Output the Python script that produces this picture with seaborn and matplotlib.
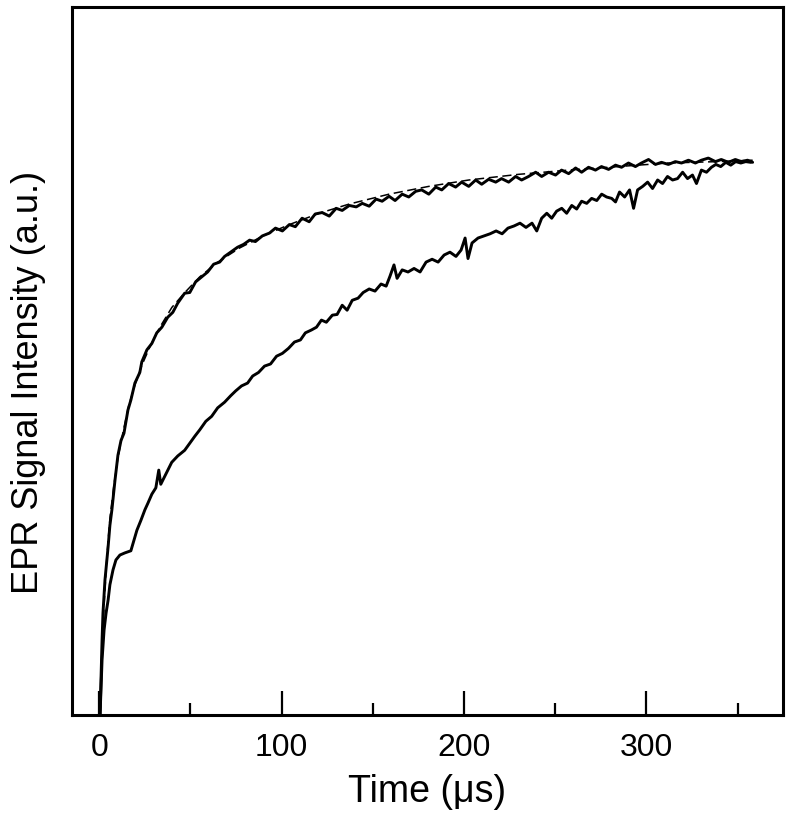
"""
EPR signal rise curves: two measured traces plus a fitted (dashed) curve.
"""

import numpy as np
import pandas as pd
import matplotlib
matplotlib.use("Agg")
import matplotlib.pyplot as plt
import seaborn as sns

# --- data ---
fast_time = [0.4, 0.9, 1.5, 2.0, 3.1, 4.8, 5.8, 6.9, 8.6, 10.2, 11.9, 13.5, 15.7, 17.3, 19.5,
             22.2, 23.3, 26.1, 28.8, 31.5, 34.3, 37.5, 40.3, 43.0, 46.8, 49.6, 52.8, 56.1, 59.4,
             62.7, 66.0, 68.7, 72.0, 75.8, 79.1, 82.4, 85.6, 89.4, 93.3, 96.6, 100.4, 104.2,
             107.5, 111.2, 115.1, 118.4, 122.2, 126.1, 129.9, 133.2, 137.1, 140.9, 144.2, 148.0,
             151.8, 155.1, 158.9, 162.2, 166.1, 169.7, 173.5, 176.8, 180.7, 184.5, 187.8, 191.6,
             195.4, 198.7, 202.6, 206.4, 209.7, 213.5, 217.4, 220.6, 224.5, 228.3, 231.6, 235.4,
             239.3, 242.6, 246.4, 250.2, 253.5, 257.4, 261.2, 264.5, 268.3, 272.1, 275.4, 279.3,
             283.1, 286.4, 290.2, 294.0, 297.3, 301.2, 305.0, 308.3, 312.1, 315.9, 319.3, 323.1,
             326.9, 330.2, 334.0, 337.9, 341.1, 345.0, 348.8, 352.1, 355.5, 358.3]
fast_signal = [0.000, 0.049, 0.106, 0.144, 0.191, 0.237, 0.268, 0.290, 0.332, 0.367, 0.388,
               0.398, 0.431, 0.445, 0.469, 0.484, 0.499, 0.516, 0.525, 0.540, 0.548, 0.562,
               0.569, 0.582, 0.596, 0.597, 0.612, 0.619, 0.626, 0.637, 0.640, 0.648, 0.654,
               0.661, 0.665, 0.671, 0.669, 0.677, 0.681, 0.688, 0.684, 0.693, 0.690, 0.702,
               0.697, 0.708, 0.710, 0.705, 0.716, 0.713, 0.720, 0.718, 0.723, 0.719, 0.729,
               0.726, 0.733, 0.727, 0.736, 0.732, 0.740, 0.742, 0.736, 0.746, 0.742, 0.751,
               0.746, 0.753, 0.747, 0.756, 0.750, 0.757, 0.753, 0.758, 0.753, 0.761, 0.756,
               0.761, 0.767, 0.761, 0.767, 0.763, 0.770, 0.765, 0.773, 0.767, 0.774, 0.770,
               0.775, 0.771, 0.777, 0.774, 0.780, 0.775, 0.780, 0.785, 0.778, 0.781, 0.778,
               0.782, 0.780, 0.784, 0.780, 0.784, 0.787, 0.782, 0.785, 0.781, 0.785, 0.782,
               0.784, 0.781]

slow_time = [0.4, 1.5, 2.6, 3.7, 4.8, 5.8, 7.5, 9.1, 11.3, 14.0, 17.3, 19.0, 20.6, 22.8, 25.0,
             26.6, 28.8, 31.0, 32.6, 33.7, 36.4, 39.7, 43.0, 46.8, 49.6, 52.4, 55.1, 58.4, 61.6,
             64.9, 68.7, 72.0, 74.8, 78.0, 81.3, 84.1, 87.3, 90.6, 93.9, 97.2, 100.4, 103.7,
             107.0, 110.3, 113.0, 116.3, 119.1, 121.8, 124.5, 127.8, 130.4, 133.2, 135.9, 138.7,
             141.9, 144.7, 148.0, 151.2, 154.5, 157.3, 159.4, 161.6, 163.3, 166.1, 169.3, 172.6,
             175.9, 179.2, 182.5, 185.8, 189.1, 192.3, 195.6, 198.4, 200.6, 202.2, 204.4, 207.7,
             211.0, 214.3, 217.6, 220.9, 224.1, 227.4, 230.7, 234.0, 237.3, 239.9, 242.6, 245.4,
             248.1, 250.8, 253.6, 256.3, 259.1, 261.8, 264.5, 267.3, 270.0, 272.8, 275.5, 278.2,
             281.0, 283.1, 285.3, 288.1, 290.8, 293.0, 295.2, 298.0, 300.7, 303.4, 306.2, 308.9,
             311.6, 314.4, 317.1, 319.9, 322.6, 325.3, 327.5, 330.2, 333.0, 335.7, 338.1, 340.8,
             343.6, 346.3, 349.0, 351.8, 354.5, 357.3]
slow_signal = [0.000, 0.078, 0.120, 0.144, 0.162, 0.184, 0.205, 0.219, 0.226, 0.229, 0.232,
               0.247, 0.261, 0.275, 0.290, 0.299, 0.312, 0.321, 0.346, 0.326, 0.340, 0.357,
               0.366, 0.374, 0.384, 0.394, 0.403, 0.415, 0.422, 0.434, 0.442, 0.451, 0.458,
               0.465, 0.469, 0.479, 0.484, 0.493, 0.496, 0.507, 0.511, 0.518, 0.527, 0.530,
               0.540, 0.544, 0.548, 0.558, 0.555, 0.565, 0.566, 0.579, 0.572, 0.586, 0.589,
               0.597, 0.602, 0.599, 0.609, 0.606, 0.620, 0.636, 0.617, 0.629, 0.626, 0.631,
               0.626, 0.640, 0.644, 0.640, 0.650, 0.654, 0.648, 0.657, 0.674, 0.645, 0.667,
               0.674, 0.677, 0.680, 0.684, 0.680, 0.688, 0.691, 0.695, 0.689, 0.695, 0.684,
               0.702, 0.709, 0.702, 0.712, 0.716, 0.709, 0.720, 0.715, 0.726, 0.723, 0.730,
               0.727, 0.736, 0.732, 0.730, 0.725, 0.739, 0.732, 0.742, 0.716, 0.742, 0.747,
               0.753, 0.744, 0.756, 0.751, 0.761, 0.756, 0.758, 0.767, 0.758, 0.763, 0.751,
               0.770, 0.767, 0.774, 0.778, 0.775, 0.781, 0.777, 0.782, 0.780, 0.782, 0.781]

fit_time = [0.4, 1.5, 2.6, 4.2, 5.8, 8.0, 10.2, 13.0, 16.2, 19.5, 23.3, 27.7, 33.2, 39.8, 46.9,
            55.0, 65.0, 77.0, 90.6, 104.2, 120.6, 137.0, 158.9, 180.7, 202.6, 229.9, 257.3,
            284.6, 311.9, 339.2, 358.3]
fit_signal = [0.000, 0.078, 0.155, 0.226, 0.278, 0.325, 0.363, 0.400, 0.438, 0.466, 0.494,
              0.520, 0.548, 0.576, 0.597, 0.619, 0.640, 0.660, 0.678, 0.693, 0.709, 0.722,
              0.736, 0.747, 0.756, 0.764, 0.770, 0.775, 0.780, 0.782, 0.784]

x_major = [0, 100, 200, 300]
x_minor = [50, 150, 250, 350]

sns.set_style("white")
plt.rcParams["font.family"] = ["Liberation Sans", "DejaVu Sans"]
plt.rcParams["text.color"] = "black"
plt.rcParams["axes.labelcolor"] = "black"
plt.rcParams["xtick.color"] = "black"

fig = plt.figure(figsize=(7.91, 8.18), dpi=100)
ax = fig.add_axes([0.091, 0.126, 0.899, 0.865])

fast = pd.DataFrame({"t": fast_time, "s": fast_signal})
slow = pd.DataFrame({"t": slow_time, "s": slow_signal})
fit = pd.DataFrame({"t": fit_time, "s": fit_signal})

sns.lineplot(data=fit, x="t", y="s", ax=ax, color="black", linewidth=1.1,
             linestyle=(0, (6, 3)), estimator=None)
sns.lineplot(data=slow, x="t", y="s", ax=ax, color="black", linewidth=2.1, estimator=None)
sns.lineplot(data=fast, x="t", y="s", ax=ax, color="black", linewidth=2.1, estimator=None)

ax.set_xlim(-15, 375)
ax.set_ylim(0, 1.0)
ax.set_xticks(x_major)
ax.set_xticks(x_minor, minor=True)
ax.set_yticks([])
ax.tick_params(axis="x", which="major", direction="in", length=17, width=1.6,
               labelsize=23, pad=13, bottom=True, top=False, colors="black")
ax.tick_params(axis="x", which="minor", direction="in", length=8.5, width=1.6,
               bottom=True, top=False, colors="black")

for side in ["left", "right", "top", "bottom"]:
    ax.spines[side].set_linewidth(2.2)
    ax.spines[side].set_color("black")

ax.set_xlabel("Time (μs)", fontsize=27, labelpad=8)
ax.set_ylabel("EPR Signal Intensity (a.u.)", fontsize=26)
ax.yaxis.set_label_coords(-0.036, 0.47)

fig.savefig("out.png", dpi=100)
plt.close(fig)
